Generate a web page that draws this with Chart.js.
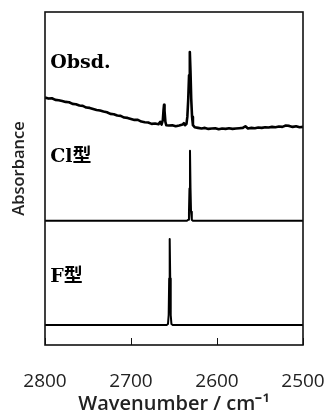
<!DOCTYPE html>
<html>
<head>
<meta charset="utf-8">
<script src="https://cdn.jsdelivr.net/npm/chart.js@4.4.1/dist/chart.umd.min.js"></script>
<style>
  html, body { margin: 0; padding: 0; background: #fff; }
  #wrap { width: 328px; height: 416px; }
</style>
</head>
<body>
<div id="wrap"><canvas id="c" width="328" height="416"></canvas></div>
<script>
// wavenumber (cm-1) / absorbance (arb. units, stacked with offsets)
const obsdWn = [2800, 2796, 2792, 2788, 2784, 2780, 2776, 2772, 2768, 2764, 2760, 2756, 2752, 2748,
  2744, 2740, 2736, 2732, 2728, 2724, 2720, 2716, 2712, 2708, 2704, 2700, 2696, 2692, 2688, 2684,
  2680, 2676, 2672, 2668, 2666, 2664.5, 2663, 2662.2, 2661.6, 2661, 2660, 2659, 2656, 2652, 2648,
  2644, 2640, 2638.5, 2637, 2635.5, 2634.5, 2633.5, 2632.5, 2631.6, 2630.8, 2630, 2629, 2628, 2626,
  2622, 2618, 2614, 2610, 2606, 2602, 2598, 2594, 2590, 2586, 2582, 2578, 2574, 2570, 2567, 2564,
  2560, 2556, 2552, 2548, 2544, 2540, 2536, 2532, 2528, 2524, 2520, 2516, 2512, 2508, 2504, 2500];
const obsdAbs = [74.3, 74.0, 74.1, 73.6, 73.5, 73.3, 73.0, 72.9, 72.4, 72.3, 71.9, 71.8, 71.3, 71.2,
  70.9, 70.6, 70.4, 70.1, 69.9, 69.4, 69.3, 68.9, 68.8, 68.3, 68.2, 67.9, 67.6, 67.6, 67.1, 66.9,
  66.8, 66.4, 66.5, 66.3, 67.0, 66.2, 67.5, 70.5, 72.1, 70.3, 67.0, 66.0, 65.9, 66.0, 65.7,
  65.9, 66.2, 66.6, 66.0, 66.4, 68.5, 73.5, 81.0, 88.0, 82.0, 74.0, 68.5, 66.0, 65.4,
  65.2, 65.0, 65.2, 64.9, 65.0, 65.1, 64.8, 65.0, 64.9, 65.1, 64.9, 65.0, 65.1, 65.2, 65.7, 65.0,
  65.2, 65.1, 65.3, 65.2, 65.4, 65.3, 65.5, 65.4, 65.6, 65.5, 65.9, 65.8, 65.5, 65.7, 65.4, 65.5];

const clWn = [2800, 2635, 2633.5, 2632.6, 2632, 2631.4, 2630.8, 2630.2, 2629.3, 2628, 2500];
const clAbs = [37.3, 37.3, 37.6, 40, 47, 58.3, 47, 40, 37.6, 37.3, 37.3];

const fWn = [2800, 2658.5, 2657, 2656.2, 2655.6, 2655, 2654.4, 2653.8, 2653, 2651.5, 2500];
const fAbs = [6.0, 6.0, 6.3, 9, 20, 31.8, 20, 9, 6.3, 6.0, 6.0];

const xTicks = [2800, 2700, 2600, 2500];
const seriesNames = ['Obsd.', 'Cl型', 'F型'];
const yTitle = 'Absorbance';

function pts(xs, ys) {
    return xs.map((x, i) => ({x: x, y: ys[i]}));
}

// frame round the plot area, and the y title (sits a bit above the middle)
const framePlugin = {
    id: 'frame',
    afterDatasetsDraw(chart) {
        const a = chart.chartArea;
        const ctx = chart.ctx;
        ctx.save();
        ctx.strokeStyle = '#111';
        ctx.lineWidth = 1.6;
        ctx.strokeRect(a.left, a.top, a.right - a.left, a.bottom - a.top);

        ctx.translate(a.left - 26, (a.top + a.bottom) / 2 - 10);
        ctx.rotate(-Math.PI / 2);
        ctx.fillStyle = '#222';
        ctx.font = "600 16.5px 'Open Sans'";
        ctx.textAlign = 'center';
        ctx.textBaseline = 'middle';
        ctx.fillText(yTitle, 0, 0);
        ctx.restore();
    }
};

// series names written inside the panels
const namePlugin = {
    id: 'names',
    afterDatasetsDraw(chart, args, opts) {
        const ctx = chart.ctx;
        const xs = chart.scales.x, ys = chart.scales.y;
        ctx.save();
        ctx.fillStyle = '#000';
        ctx.font = "bold 19px 'DejaVu Serif', 'Noto Sans CJK JP'";
        ctx.textBaseline = 'alphabetic';
        ctx.textAlign = 'left';
        opts.at.forEach((p, i) => {
            ctx.fillText(seriesNames[i], xs.getPixelForValue(p[0]), ys.getPixelForValue(p[1]));
        });
        ctx.restore();
    }
};

const lineStyle = {
    borderColor: '#000',
    pointRadius: 0,
    tension: 0,
    fill: false,
    borderJoinStyle: 'round'
};

new Chart(document.getElementById('c'), {
    type: 'line',
    data: {
        datasets: [
            Object.assign({label: seriesNames[0], data: pts(obsdWn, obsdAbs), borderWidth: 2.6}, lineStyle),
            Object.assign({label: seriesNames[1], data: pts(clWn, clAbs), borderWidth: 2}, lineStyle),
            Object.assign({label: seriesNames[2], data: pts(fWn, fAbs), borderWidth: 2}, lineStyle)
        ]
    },
    options: {
        responsive: false,
        animation: false,
        parsing: false,
        layout: {padding: {top: 12, right: 25, left: 0, bottom: 0}},
        plugins: {
            legend: {display: false},
            tooltip: {enabled: false},
            names: {at: [[2794, 83.2], [2794, 55.0], [2794, 18.9]]}
        },
        scales: {
            x: {
                type: 'linear',
                reverse: true,
                min: 2500,
                max: 2800,
                afterBuildTicks: (s) => { s.ticks = xTicks.map(v => ({value: v})); },
                afterFit: (s) => { s.height = 71; s.paddingLeft = 0; s.paddingRight = 0; },
                grid: {
                    display: true,
                    drawOnChartArea: false,
                    drawTicks: true,
                    tickLength: -7,
                    color: '#111',
                    lineWidth: 1
                },
                border: {display: false},
                ticks: {
                    color: '#222',
                    padding: 32,
                    maxRotation: 0,
                    callback: (v) => String(v),
                    font: {family: "'Open Sans'", size: 19}
                },
                title: {
                    display: true,
                    text: 'Wavenumber / cm⁻¹',
                    color: '#222',
                    padding: {top: 0, bottom: 0},
                    font: {family: "'Open Sans'", size: 20, weight: '600'}
                }
            },
            y: {
                min: 0,
                max: 100,
                afterFit: (s) => { s.width = 45; },
                grid: {display: false, drawTicks: false},
                border: {display: false},
                ticks: {display: false},
                title: {display: false}
            }
        }
    },
    plugins: [framePlugin, namePlugin]
});
</script>
</body>
</html>
